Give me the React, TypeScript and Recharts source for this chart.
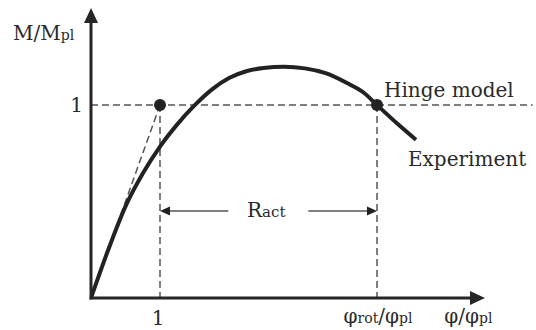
import { LineChart, Line, XAxis, YAxis, ReferenceLine, ReferenceDot } from "recharts";

// normalised rotation φ/φpl and moment M/Mpl
const EXP_PHI = [0, 0.25, 0.5, 0.75, 1.0, 1.25, 1.5, 1.75, 2.0, 2.25, 2.5, 2.8, 3.1, 3.4, 3.71, 3.95, 4.145, 4.45, 4.71];
const EXP_M = [0, 0.25, 0.475, 0.645, 0.785, 0.9, 0.998, 1.08, 1.14, 1.175, 1.192, 1.198, 1.19, 1.165, 1.114, 1.065, 1.0, 0.9, 0.82];

const HINGE_PHI = [0, 1];
const HINGE_M = [0, 1];

const PHI_ROT = 4.145;
const X_MAX = 5.71;
const Y_MAX = 1.503;
const R_ACT_LEVEL = 0.451;
const R_ACT_LEFT_END = 1.99;
const R_ACT_RIGHT_START = 3.15;

const experiment = EXP_PHI.map((x, i) => ({ x, y: EXP_M[i] }));
const hinge = HINGE_PHI.map((x, i) => ({ x, y: HINGE_M[i] }));

const FONT = "'DejaVu Serif', serif";
const TEXT = "#2a2a2a";
const AXIS = "#262626";
const DASH = "#555";

function ArrowRight({ cx, cy, len = 15, half = 7, color = AXIS }: any) {
  return <polygon points={`${cx},${cy} ${cx - len},${cy - half} ${cx - len},${cy + half}`} fill={color} />;
}
function ArrowLeft({ cx, cy, len = 15, half = 7, color = AXIS }: any) {
  return <polygon points={`${cx},${cy} ${cx + len},${cy - half} ${cx + len},${cy + half}`} fill={color} />;
}
function ArrowUp({ cx, cy }: any) {
  return <polygon points={`${cx},${cy} ${cx - 7},${cy + 15} ${cx + 7},${cy + 15}`} fill={AXIS} />;
}

function XTick(props: any) {
  const v = props.payload.value;
  if (v === 1) {
    return (
      <text x={props.x - 2} y={325} textAnchor="middle" fontFamily={FONT} fontSize={20} fill={TEXT}>1</text>
    );
  }
  return (
    <text x={props.x + 1} y={323} textAnchor="middle" fontFamily={FONT} fontSize={20} fill={TEXT}>
      φ<tspan fontSize={14}>rot</tspan>/φ<tspan fontSize={14}>pl</tspan>
    </text>
  );
}

function YTick(props: any) {
  return (
    <text x={83} y={props.y + 7} textAnchor="end" fontFamily={FONT} fontSize={20} fill={TEXT}>1</text>
  );
}

export default function App() {
  return (
    <div style={{ position: "absolute", left: 0, top: 0 }}>
      <LineChart width={536} height={330} data={experiment} margin={{ top: 8, right: 51, bottom: 0, left: 0 }}>
        <XAxis
          type="number"
          dataKey="x"
          domain={[0, X_MAX]}
          allowDataOverflow
          ticks={[1, PHI_ROT]}
          interval={0}
          height={32}
          axisLine={false}
          tickLine={false}
          tick={<XTick />}
        />
        <YAxis
          type="number"
          domain={[0, Y_MAX]}
          allowDataOverflow
          ticks={[1]}
          width={91}
          axisLine={false}
          tickLine={false}
          tick={<YTick />}
          label={{
            content: () => (
              <text x={13} y={40} fontFamily={FONT} fontSize={20} fill={TEXT}>
                M/M<tspan fontSize={14}>pl</tspan>
              </text>
            ),
          }}
        />

        {/* dashed guides */}
        <ReferenceLine segment={[{ x: 0, y: 1 }, { x: 6.4, y: 1 }]} stroke={DASH} strokeWidth={1.5} strokeDasharray="7 4" ifOverflow="visible" />
        <ReferenceLine segment={[{ x: 1, y: 1 }, { x: 1, y: 0 }]} stroke={DASH} strokeWidth={1.5} strokeDasharray="7 4" />
        <ReferenceLine segment={[{ x: PHI_ROT, y: 1 }, { x: PHI_ROT, y: 0 }]} stroke={DASH} strokeWidth={1.5} strokeDasharray="7 4" />

        {/* R_act arrows */}
        <ReferenceLine segment={[{ x: R_ACT_LEFT_END, y: R_ACT_LEVEL }, { x: 1.12, y: R_ACT_LEVEL }]} stroke={DASH} strokeWidth={1.5} />
        <ReferenceLine segment={[{ x: R_ACT_RIGHT_START, y: R_ACT_LEVEL }, { x: PHI_ROT - 0.12, y: R_ACT_LEVEL }]} stroke={DASH} strokeWidth={1.5} />
        <ReferenceDot x={1} y={R_ACT_LEVEL} r={1} shape={(p: any) => <ArrowLeft {...p} len={10} half={4.5} color="#222" />} />
        <ReferenceDot x={PHI_ROT} y={R_ACT_LEVEL} r={1} shape={(p: any) => <ArrowRight {...p} len={10} half={4.5} color="#222" />} />
        <ReferenceDot
          x={2.54}
          y={R_ACT_LEVEL}
          r={1}
          shape={(p: any) => (
            <text x={p.cx} y={p.cy + 6} textAnchor="middle" fontFamily={FONT} fontSize={20} fill={TEXT}>
              R<tspan fontSize={15}>act</tspan>
            </text>
          )}
        />

        {/* axes with arrowheads */}
        <ReferenceLine segment={[{ x: -0.02, y: 0 }, { x: 5.5, y: 0 }]} stroke={AXIS} strokeWidth={3} ifOverflow="visible" />
        <ReferenceLine segment={[{ x: 0, y: -0.008 }, { x: 0, y: 1.43 }]} stroke={AXIS} strokeWidth={3} ifOverflow="visible" />
        <ReferenceDot x={X_MAX} y={0} r={1} ifOverflow="visible" shape={(p: any) => <ArrowRight {...p} />} />
        <ReferenceDot x={0} y={Y_MAX} r={1} ifOverflow="visible" shape={(p: any) => <ArrowUp {...p} />} />

        <Line data={hinge} dataKey="y" type="linear" stroke={DASH} strokeWidth={1.5} strokeDasharray="7 4" dot={false} isAnimationActive={false} />
        <Line data={experiment} dataKey="y" type="monotone" stroke="#222" strokeWidth={4} dot={false} isAnimationActive={false} />

        <ReferenceDot x={1} y={1} r={6} fill="#222" stroke="none" />
        <ReferenceDot x={PHI_ROT} y={1} r={6} fill="#222" stroke="none" />

        <ReferenceDot
          x={4.246}
          y={1}
          r={1}
          shape={(p: any) => (
            <text x={p.cx} y={p.cy - 8} fontFamily={FONT} fontSize={20} fill={TEXT}>Hinge model</text>
          )}
        />
        <ReferenceDot
          x={4.594}
          y={0.684}
          r={1}
          shape={(p: any) => (
            <text x={p.cx} y={p.cy} fontFamily={FONT} fontSize={20} fill={TEXT}>Experiment</text>
          )}
        />
        <ReferenceDot
          x={5.47}
          y={0}
          r={1}
          ifOverflow="visible"
          shape={(p: any) => (
            <text x={p.cx} y={323} textAnchor="middle" fontFamily={FONT} fontSize={20} fill={TEXT}>
              φ/φ<tspan fontSize={14}>pl</tspan>
            </text>
          )}
        />
      </LineChart>
    </div>
  );
}
